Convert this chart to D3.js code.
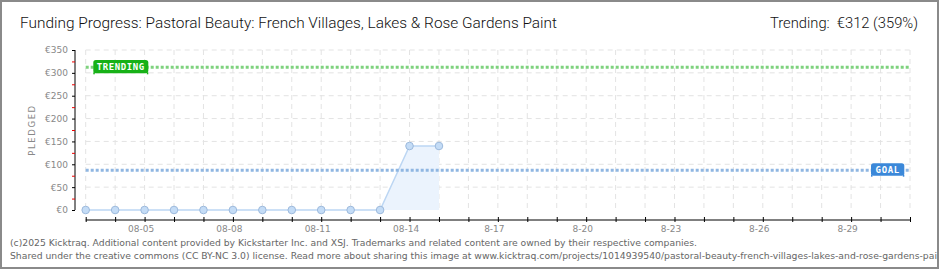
<!DOCTYPE html>
<html><head><meta charset="utf-8">
<script src="https://cdn.jsdelivr.net/npm/d3@7/dist/d3.min.js"></script>
<style>
html,body{margin:0;padding:0;background:#fff;}
svg{display:block;}
</style></head>
<body>
<svg id="c" width="940" height="270"></svg>
<script>
// ---- data ----
const titleText = "Funding Progress: Pastoral Beauty: French Villages, Lakes & Rose Gardens Paint";
const trendingText = "Trending:  €312 (359%)";
const pledgedDates = ["2025-08-03","2025-08-04","2025-08-05","2025-08-06","2025-08-07","2025-08-08","2025-08-09","2025-08-10","2025-08-11","2025-08-12","2025-08-13","2025-08-14","2025-08-15"];
const pledgedValues = [0,0,0,0,0,0,0,0,0,0,0,140,140];
const goalValue = 87;
const trendingValue = 312;
const xDomain = ["2025-08-03","2025-08-31"];
const xLabelDates = ["2025-08-05","2025-08-08","2025-08-11","2025-08-14","2025-08-17","2025-08-20","2025-08-23","2025-08-26","2025-08-29"];
const xLabels = ["08-05","08-08","08-11","08-14","8-17","8-20","8-23","8-26","8-29"];
const yMajorTicks = [0,50,100,150,200,250,300,350];
const yMinorTicks = [25,75,125,175,225,275,325];
const footer1 = "(c)2025 Kicktraq. Additional content provided by Kickstarter Inc. and XSJ. Trademarks and related content are owned by their respective companies.";
const footer2 = "Shared under the creative commons (CC BY-NC 3.0) license. Read more about sharing this image at www.kicktraq.com/projects/1014939540/pastoral-beauty-french-villages-lakes-and-rose-gardens-paint/";

const parse = d3.timeParse("%Y-%m-%d");
const svg = d3.select("#c");

// frame
svg.append("rect").attr("x",1).attr("y",1).attr("width",937).attr("height",267)
  .attr("fill","#fff").attr("stroke","#8a8a8a").attr("stroke-width",2);

const x = d3.scaleTime().domain(xDomain.map(parse)).range([85.7, 910]);
const y = d3.scaleLinear().domain([0,350]).range([210,50]);
const allDays = d3.timeDay.range(parse(xDomain[0]), d3.timeDay.offset(parse(xDomain[1]),1));

const tickFont = "'DejaVu Sans', sans-serif";

// grid
const grid = svg.append("g");
grid.selectAll(".vg").data(allDays).enter().append("line")
  .attr("x1",d=>x(d)).attr("x2",d=>x(d)).attr("y1",y(350)).attr("y2",y(0))
  .attr("stroke","#e3e3e3").attr("stroke-dasharray","5,4");
grid.selectAll(".hg").data(yMajorTicks.filter(v=>v>0)).enter().append("line")
  .attr("x1",x.range()[0]).attr("x2",x.range()[1]).attr("y1",d=>y(d)).attr("y2",d=>y(d))
  .attr("stroke","#e3e3e3").attr("stroke-dasharray","5,4");

// area + line
const pts = pledgedDates.map((d,i)=>({d:parse(d), v:pledgedValues[i]}));
svg.append("path").datum(pts)
  .attr("d", d3.area().x(p=>x(p.d)).y0(y(0)).y1(p=>y(p.v)))
  .attr("fill","#ebf3fd");
svg.append("path").datum(pts)
  .attr("d", d3.line().x(p=>x(p.d)).y(p=>y(p.v)))
  .attr("fill","none").attr("stroke","#bcd6f3").attr("stroke-width",1.5);

// goal & trending lines
svg.append("line").attr("x1",x.range()[0]).attr("x2",x.range()[1])
  .attr("y1",y(goalValue)).attr("y2",y(goalValue))
  .attr("stroke","#8fb6e2").attr("stroke-width",3).attr("stroke-dasharray","3,2");
svg.append("line").attr("x1",x.range()[0]).attr("x2",x.range()[1])
  .attr("y1",y(trendingValue)).attr("y2",y(trendingValue))
  .attr("stroke","#7ed27e").attr("stroke-width",3).attr("stroke-dasharray","3,2");

// points
svg.selectAll(".pt").data(pts).enter().append("circle")
  .attr("cx",p=>x(p.d)).attr("cy",p=>y(p.v)).attr("r",3.8)
  .attr("fill","#c4dcf6").attr("stroke","#9cb9dc").attr("stroke-width",1);

// y axis
const yAxisG = svg.append("g").attr("transform","translate(75,0)")
  .call(d3.axisLeft(y).tickValues(yMajorTicks).tickSize(3).tickFormat(d=>"€"+d));
yAxisG.select(".domain").attr("stroke","#000").attr("d","M0,"+y(350)+"V"+y(0));
yAxisG.selectAll(".tick line").attr("stroke","#000");
yAxisG.selectAll(".tick text").attr("font-family",tickFont).attr("font-size",9)
  .attr("fill","#888").attr("x",-7);
const yMinor = svg.append("g").attr("transform","translate(75,0)")
  .call(d3.axisLeft(y).tickValues(yMinorTicks).tickSize(3).tickFormat(""));
yMinor.select(".domain").remove();
yMinor.selectAll(".tick line").attr("stroke","#e00");

// x axis
const labelMap = new Map(xLabelDates.map((d,i)=>[+parse(d), xLabels[i]]));
const xAxisG = svg.append("g").attr("transform","translate(0,220)")
  .call(d3.axisBottom(x).tickValues(allDays).tickSize(2).tickFormat(d=>labelMap.get(+d)||""));
xAxisG.select(".domain").attr("stroke","#000").attr("d","M"+x.range()[0]+",0H"+x.range()[1]);
xAxisG.selectAll(".tick line").attr("stroke","#000").attr("y1",-3).attr("y2",2);
xAxisG.selectAll(".tick text").attr("font-family",tickFont).attr("font-size",9)
  .attr("fill","#888").attr("dx",-4).attr("y",6);

// y label
svg.append("text").attr("transform","translate(35,130) rotate(-90)")
  .attr("text-anchor","middle").attr("font-family",tickFont).attr("font-size",8.5)
  .attr("letter-spacing",1.6).attr("fill","#888").text("PLEDGED");

// badges
function badge(x0,y0,w,h,col,label){
  const g = svg.append("g");
  g.append("rect").attr("x",x0).attr("y",y0).attr("width",w).attr("height",h)
    .attr("rx",2.5).attr("fill",col);
  g.append("rect").attr("x",x0).attr("y",y0+h-1).attr("width",1.5).attr("height",2).attr("fill",col);
  g.append("rect").attr("x",x0+w-1.5).attr("y",y0+h-1).attr("width",1.5).attr("height",2).attr("fill",col);
  g.append("text").attr("x",x0+w/2).attr("y",y0+h/2+3.3).attr("text-anchor","middle")
    .attr("font-family","'DejaVu Sans Mono', monospace").attr("font-weight","bold")
    .attr("font-size",9).attr("letter-spacing",0.6).attr("fill","#fff").text(label);
}
badge(93.3,60,55,13.3,"#17b117","TRENDING");
badge(871,163.3,33.3,12.4,"#3b88d9","GOAL");

// title & trending
function fitText(sel, w){
  const l = sel.node().getComputedTextLength();
  sel.attr("textLength", w).attr("lengthAdjust","spacingAndGlyphs");
}
const t = svg.append("text").attr("x",20).attr("y",28).attr("font-family","Roboto, sans-serif")
  .attr("font-size",15.5).attr("font-weight",300).attr("fill","#111").text(titleText);
fitText(t, 537);
const tr = svg.append("text").attr("x",770).attr("y",28).attr("font-family","Roboto, sans-serif")
  .attr("font-size",15.5).attr("font-weight",300).attr("fill","#111").attr("xml:space","preserve").text(trendingText);
fitText(tr, 148);

// footer
const f1 = svg.append("text").attr("x",10).attr("y",246).attr("font-family",tickFont)
  .attr("font-size",9.5).attr("fill","#666").text(footer1);
const l1 = f1.node().getComputedTextLength();
const scale = 687/l1;
f1.attr("textLength",687).attr("lengthAdjust","spacingAndGlyphs");
const f2 = svg.append("text").attr("x",10).attr("y",259).attr("font-family",tickFont)
  .attr("font-size",9.5).attr("fill","#666").text(footer2);
const l2 = f2.node().getComputedTextLength();
f2.attr("textLength",l2*scale).attr("lengthAdjust","spacingAndGlyphs");
// right border over clipped footer
svg.append("rect").attr("x",937).attr("y",0).attr("width",3).attr("height",270).attr("fill","#fff");
svg.append("line").attr("x1",938).attr("x2",938).attr("y1",0).attr("y2",269).attr("stroke","#8a8a8a").attr("stroke-width",2);
</script>
</body></html>
